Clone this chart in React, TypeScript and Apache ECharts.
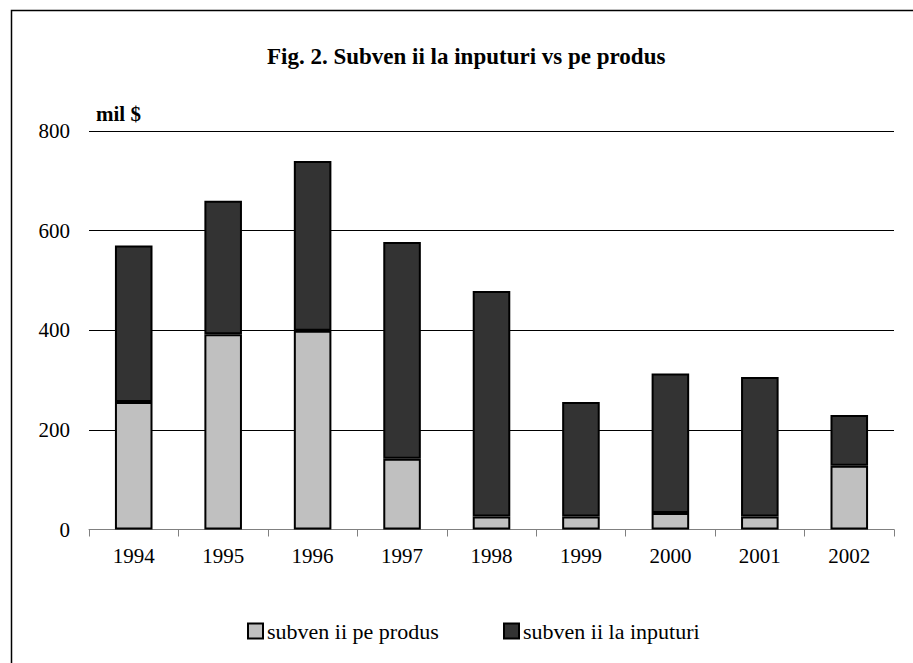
import React, { useEffect, useRef } from "react";
import * as echarts from "echarts";

const years = ["1994", "1995", "1996", "1997", "1998", "1999", "2000", "2001", "2002"];
const perProduct = [256, 392, 399, 142, 26, 26, 33, 26, 128];
const inputs = [314, 268, 341, 435, 453, 230, 280, 280, 102];
const yTicks = [0, 200, 400, 600, 800];
const seriesNames = ["subven ii pe produs", "subven ii la inputuri"];

const FONT = '"Liberation Serif", "Times New Roman", serif';

export default function App() {
  const ref = useRef<HTMLDivElement>(null);
  useEffect(() => {
    document.body.style.margin = "0";
    const chart = echarts.init(ref.current!, undefined, { renderer: "svg" });
    const legendText = { fontFamily: FONT, fontSize: 22, color: "#000", padding: [0, 0, 0, -1] };
    chart.setOption({
      animation: false,
      backgroundColor: "#ffffff",
      textStyle: { fontFamily: FONT },
      title: {
        text: "Fig. 2. Subven ii la inputuri vs pe produs",
        left: 262,
        top: 40,
        textStyle: { fontFamily: FONT, fontWeight: "bold", fontSize: 23, color: "#000" },
      },
      graphic: [
        {
          type: "rect",
          shape: { x: 11.5, y: 10.5, width: 1000, height: 1000 },
          style: { fill: "none", stroke: "#000", lineWidth: 1.5 },
          silent: true,
        },
        {
          type: "text",
          left: 96,
          top: 103,
          style: { text: "mil $", font: `bold 21px ${FONT}`, fill: "#000" },
        },
      ],
      legend: [
        {
          data: [seriesNames[0]],
          left: 242,
          top: 615,
          icon: "rect",
          itemWidth: 15,
          itemHeight: 15,
          textStyle: legendText,
        },
        {
          data: [seriesNames[1]],
          left: 498,
          top: 615,
          icon: "rect",
          itemWidth: 15,
          itemHeight: 15,
          textStyle: legendText,
        },
      ],
      grid: { left: 89, right: 19, top: 131, bottom: 133.5, containLabel: false },
      xAxis: {
        type: "category",
        data: years,
        axisLine: { show: true, lineStyle: { color: "#808080", width: 1 } },
        axisTick: { show: true, inside: false, length: 7, lineStyle: { color: "#808080" } },
        axisLabel: { fontFamily: FONT, fontSize: 21, color: "#000", margin: 16 },
      },
      yAxis: {
        type: "value",
        min: yTicks[0],
        max: yTicks[yTicks.length - 1],
        interval: 200,
        axisLine: { show: false },
        axisTick: { show: false },
        axisLabel: { fontFamily: FONT, fontSize: 21, color: "#000", margin: 19 },
        splitLine: { show: true, lineStyle: { color: "#000", width: 1 } },
      },
      series: [
        {
          name: seriesNames[0],
          type: "bar",
          stack: "total",
          data: perProduct,
          barWidth: "42%",
          itemStyle: { color: "#C0C0C0", borderColor: "#000", borderWidth: 2 },
        },
        {
          name: seriesNames[1],
          type: "bar",
          stack: "total",
          data: inputs,
          barWidth: "42%",
          itemStyle: { color: "#333333", borderColor: "#000", borderWidth: 2 },
        },
      ],
    });
    return () => chart.dispose();
  }, []);
  return <div ref={ref} style={{ width: 913, height: 663 }} />;
}
